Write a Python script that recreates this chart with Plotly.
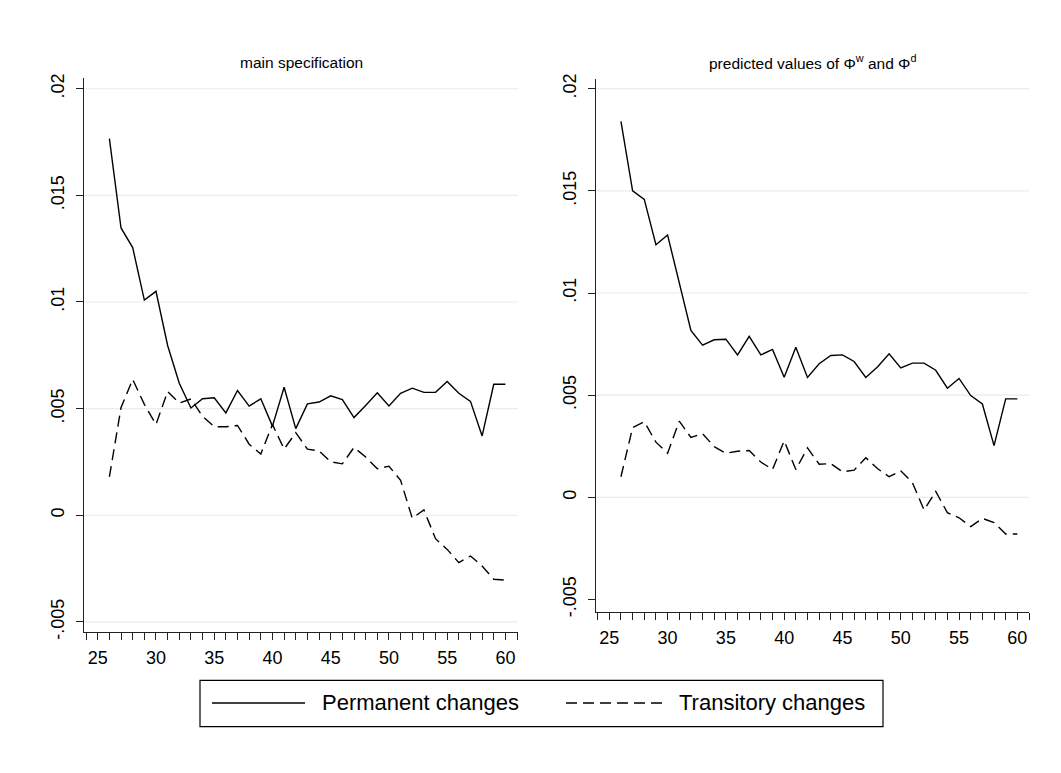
import plotly.graph_objects as go

ages = list(range(26, 61))

left_permanent = [0.01766, 0.01347, 0.01255, 0.01009, 0.01050, 0.00796, 0.00619, 0.00503, 0.00546, 0.00551,
                  0.00480, 0.00585, 0.00512, 0.00546, 0.00418, 0.00600, 0.00406, 0.00522, 0.00531, 0.00560,
                  0.00542, 0.00458, 0.00515, 0.00574, 0.00512, 0.00572, 0.00596, 0.00576, 0.00577, 0.00627,
                  0.00572, 0.00534, 0.00372, 0.00614, 0.00614]
left_transitory = [0.00180, 0.00505, 0.00637, 0.00520, 0.00426, 0.00580, 0.00526, 0.00545, 0.00464, 0.00415,
                   0.00415, 0.00421, 0.00333, 0.00287, 0.00426, 0.00310, 0.00387, 0.00310, 0.00302, 0.00251,
                   0.00241, 0.00318, 0.00273, 0.00218, 0.00230, 0.00164, -0.00014, 0.00025, -0.00110, -0.00160,
                   -0.00222, -0.00191, -0.00238, -0.00300, -0.00304]
right_permanent = [0.01840, 0.01500, 0.01458, 0.01236, 0.01284, 0.01048, 0.00817, 0.00745, 0.00771, 0.00774,
                   0.00697, 0.00788, 0.00697, 0.00724, 0.00588, 0.00734, 0.00587, 0.00654, 0.00694, 0.00697,
                   0.00665, 0.00587, 0.00638, 0.00702, 0.00633, 0.00657, 0.00657, 0.00622, 0.00534, 0.00582,
                   0.00498, 0.00457, 0.00253, 0.00482, 0.00482]
right_transitory = [0.00101, 0.00341, 0.00370, 0.00270, 0.00216, 0.00373, 0.00293, 0.00312, 0.00248, 0.00216,
                    0.00226, 0.00229, 0.00173, 0.00136, 0.00277, 0.00136, 0.00242, 0.00162, 0.00165, 0.00125,
                    0.00133, 0.00194, 0.00141, 0.00101, 0.00130, 0.00072, -0.00062, 0.00029, -0.00075, -0.00100,
                   -0.00143, -0.00103, -0.00123, -0.00179, -0.00179]

y_tickvals = [-0.005, 0.0, 0.005, 0.01, 0.015, 0.02]
y_ticktext = ["-.005", "0", ".005", ".01", ".015", ".02"]
x_tickvals = [25, 30, 35, 40, 45, 50, 55, 60]
left_grid = [-0.005, 0.0, 0.005, 0.01, 0.015, 0.02]
right_grid = [0.0, 0.005, 0.01, 0.015, 0.02]

titles = ["main specification", "predicted values of Φ<sup>w</sup> and Φ<sup>d</sup>"]
legend_names = ["Permanent changes", "Transitory changes"]

FONT = "Liberation Sans, Arial, sans-serif"
W, H = 1061, 773
DASH = "11px,6px"

fig = go.Figure()
fig.add_trace(go.Scatter(x=ages, y=left_permanent, mode="lines", name=legend_names[0],
                         line=dict(color="black", width=1.4), xaxis="x", yaxis="y", showlegend=False))
fig.add_trace(go.Scatter(x=ages, y=left_transitory, mode="lines", name=legend_names[1],
                         line=dict(color="black", width=1.4, dash=DASH), xaxis="x", yaxis="y", showlegend=False))
fig.add_trace(go.Scatter(x=ages, y=right_permanent, mode="lines", name=legend_names[0],
                         line=dict(color="black", width=1.4), xaxis="x2", yaxis="y2", showlegend=False))
fig.add_trace(go.Scatter(x=ages, y=right_transitory, mode="lines", name=legend_names[1],
                         line=dict(color="black", width=1.4, dash=DASH), xaxis="x2", yaxis="y2", showlegend=False))

def px_x(p):
    return p / W

def px_y(p):
    return 1 - p / H

xa = dict(range=[23.82, 61.08], tickvals=x_tickvals, ticks="outside", ticklen=7, tickcolor="#222",
          showline=True, linecolor="#222", linewidth=1, showgrid=False, zeroline=False,
          ticklabelstandoff=2,
          tickfont=dict(family=FONT, size=18, color="black"),
          minor=dict(dtick=1, tick0=25, ticks="outside", ticklen=7, tickcolor="#222", showgrid=False))
ya = dict(tickvals=y_tickvals, ticktext=y_ticktext, ticks="outside", ticklen=7, tickcolor="#222",
          showline=True, linecolor="#222", linewidth=1, showgrid=False, zeroline=False, tickangle=-90,
          ticklabelstandoff=5,
          tickfont=dict(family=FONT, size=18, color="black"))

fig.update_layout(
    width=W, height=H, margin=dict(l=0, r=0, t=0, b=0),
    paper_bgcolor="white", plot_bgcolor="white", showlegend=False,
    xaxis=dict(xa, domain=[px_x(84), px_x(518)], anchor="y"),
    yaxis=dict(ya, domain=[px_y(637), px_y(74)], range=[-0.00548, 0.02051], anchor="x"),
    xaxis2=dict(xa, domain=[px_x(596), px_x(1029)], range=[23.86, 61.0], anchor="y2"),
    yaxis2=dict(ya, domain=[px_y(617), px_y(75)], range=[-0.00563, 0.02048], anchor="x2"),
)

shapes = []
for v in left_grid:
    shapes.append(dict(type="line", xref="x domain", yref="y", x0=0, x1=1, y0=v, y1=v,
                       line=dict(color="#e6eef0", width=1.2), layer="below"))
for v in right_grid:
    shapes.append(dict(type="line", xref="x2 domain", yref="y2", x0=0, x1=1, y0=v, y1=v,
                       line=dict(color="#e6eef0", width=1.2), layer="below"))

# legend box and samples
shapes.append(dict(type="rect", xref="paper", yref="paper", x0=px_x(200), x1=px_x(883),
                   y0=px_y(733), y1=px_y(686), line=dict(color="black", width=1.2), fillcolor="white"))
shapes.append(dict(type="line", xref="paper", yref="paper", x0=px_x(212), x1=px_x(305),
                   y0=px_y(709), y1=px_y(709), line=dict(color="black", width=1.4)))
shapes.append(dict(type="line", xref="paper", yref="paper", x0=px_x(566), x1=px_x(664),
                   y0=px_y(709), y1=px_y(709), line=dict(color="black", width=1.4, dash=DASH)))
fig.update_layout(shapes=shapes)

annotations = [
    dict(text=titles[0], xref="x domain", yref="paper", x=0.5, y=px_y(58), showarrow=False,
         xanchor="center", yanchor="middle", font=dict(family=FONT, size=15.5, color="black")),
    dict(text=titles[1], xref="x2 domain", yref="paper", x=0.5, y=px_y(58), showarrow=False,
         xanchor="center", yanchor="middle", font=dict(family=FONT, size=15.5, color="black")),
    dict(text=legend_names[0], xref="paper", yref="paper", x=px_x(320), y=px_y(709), showarrow=False,
         xanchor="left", yanchor="middle", font=dict(family=FONT, size=22, color="black")),
    dict(text=legend_names[1], xref="paper", yref="paper", x=px_x(677), y=px_y(709), showarrow=False,
         xanchor="left", yanchor="middle", font=dict(family=FONT, size=22, color="black")),
]
fig.update_layout(annotations=annotations)

fig.write_html("out.html")
